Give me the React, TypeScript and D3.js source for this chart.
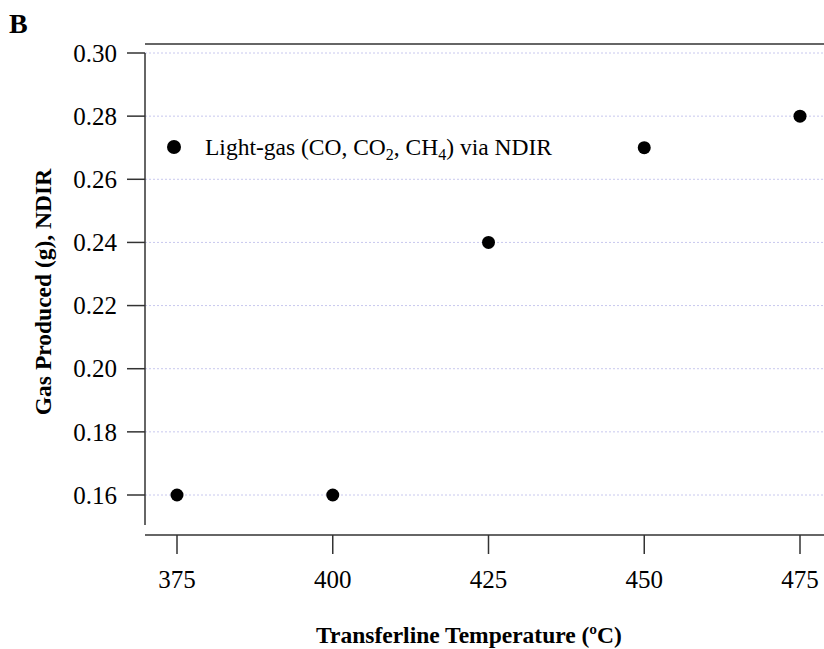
import React from 'react'
import { scaleLinear } from 'd3'

const temps = [375, 400, 425, 450, 475]
const gas = [0.16, 0.16, 0.24, 0.27, 0.28]
const yTicks = [0.16, 0.18, 0.2, 0.22, 0.24, 0.26, 0.28, 0.3]
const xTicks = [375, 400, 425, 450, 475]

export default function App() {
  const width = 824
  const height = 649
  const left = 145
  const x = scaleLinear().domain([375, 475]).range([177, 800])
  const y = scaleLinear().domain([0.16, 0.3]).range([495, 53])
  const axisY = 535
  const font = 'Liberation Serif, Times New Roman, serif'

  return (
    <svg
      width={width}
      height={height}
      style={{ position: 'absolute', left: 0, top: 0, background: '#fff' }}
      fontFamily={font}
    >
      <text x={9} y={33} fontSize={28} fontWeight="bold">B</text>
      {/* top frame */}
      <line x1={left} x2={width} y1={44} y2={44} stroke="#333" strokeWidth={1.5} />
      {/* grid */}
      {yTicks.map(t => (
        <line key={'g' + t} x1={left} x2={width} y1={y(t)} y2={y(t)}
          stroke="#c8c8ee" strokeWidth={1} strokeDasharray="2,2" />
      ))}
      {/* y axis */}
      <line x1={left} x2={left} y1={y(0.3)} y2={525} stroke="#333" strokeWidth={1.5} />
      {yTicks.map(t => (
        <g key={'y' + t}>
          <line x1={127} x2={left} y1={y(t)} y2={y(t)} stroke="#333" strokeWidth={1.5} />
          <text x={117} y={y(t)} dy="0.35em" textAnchor="end" fontSize={25}>{t.toFixed(2)}</text>
        </g>
      ))}
      {/* x axis */}
      <line x1={left} x2={width} y1={axisY} y2={axisY} stroke="#333" strokeWidth={1.5} />
      {xTicks.map(t => (
        <g key={'x' + t}>
          <line x1={x(t)} x2={x(t)} y1={axisY} y2={554} stroke="#333" strokeWidth={1.5} />
          <text x={x(t)} y={588} textAnchor="middle" fontSize={25}>{t}</text>
        </g>
      ))}
      {/* points */}
      {temps.map((t, i) => (
        <circle key={'p' + t} cx={x(t)} cy={y(gas[i])} r={6.5} fill="#000" />
      ))}
      {/* legend */}
      <circle cx={174} cy={147} r={7} fill="#000" />
      <text x={205} y={155} fontSize={23.5}>
        Light-gas (CO, CO<tspan dy={5} fontSize={16}>2</tspan><tspan dy={-5}>, CH</tspan>
        <tspan dy={5} fontSize={16}>4</tspan><tspan dy={-5}>) via NDIR</tspan>
      </text>
      {/* axis titles */}
      <text x={469} y={643} textAnchor="middle" fontSize={23.5} fontWeight="bold">
        Transferline Temperature (ºC)
      </text>
      <text transform="translate(51,292) rotate(-90)" textAnchor="middle" fontSize={23.5} fontWeight="bold">
        Gas Produced (g), NDIR
      </text>
    </svg>
  )
}
